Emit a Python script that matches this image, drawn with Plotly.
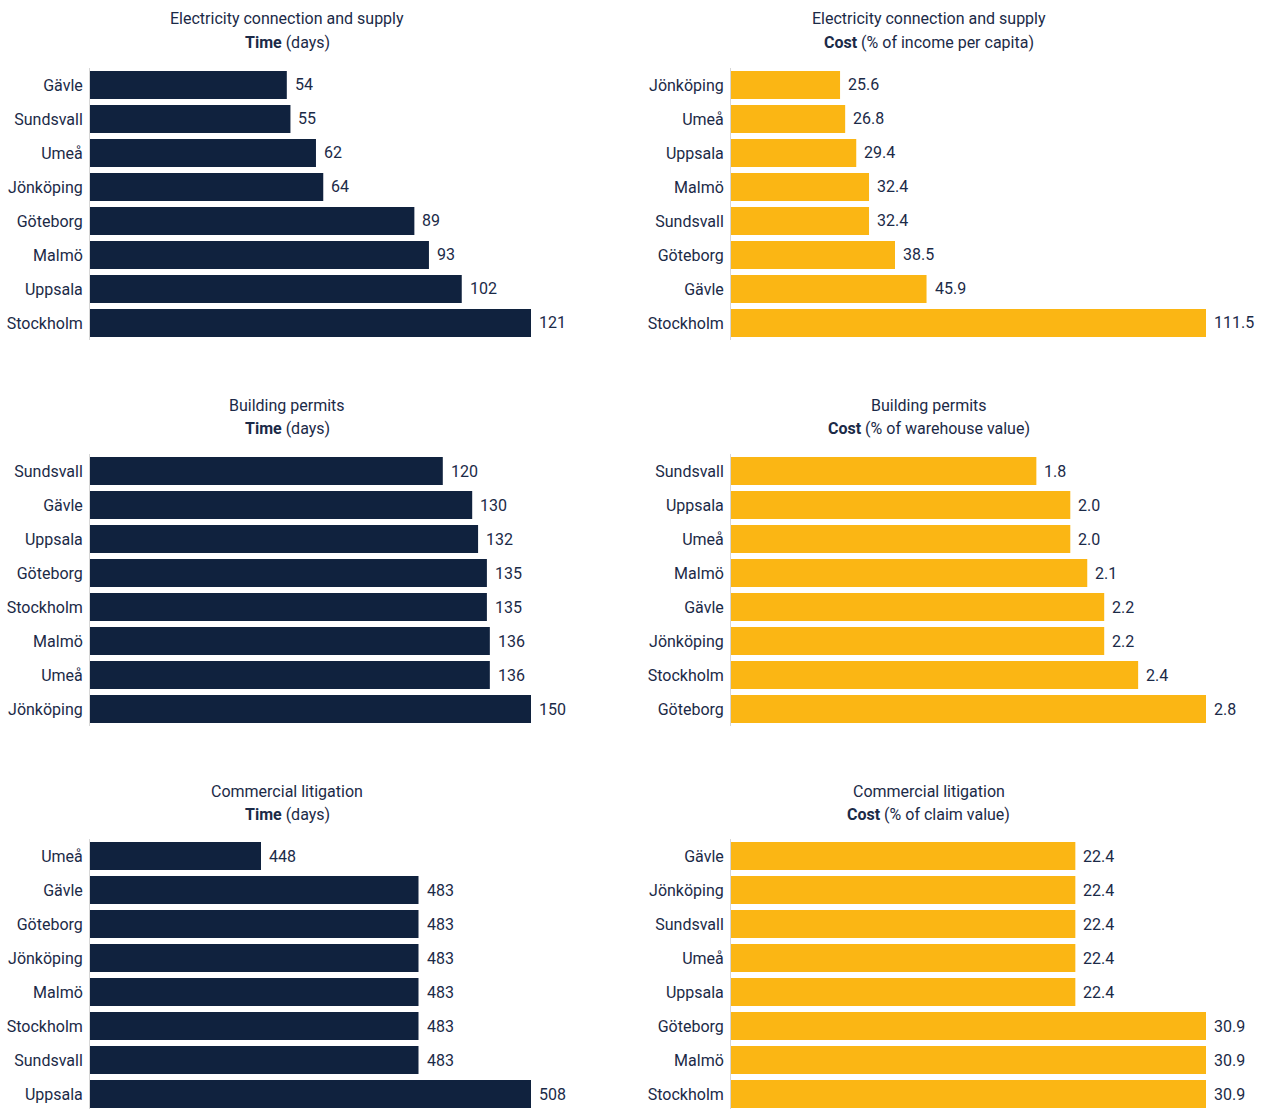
import plotly.graph_objects as go

# Doing Business in Sweden: city comparison across three indicators
elec_time_cities = ["Gävle", "Sundsvall", "Umeå", "Jönköping", "Göteborg", "Malmö", "Uppsala", "Stockholm"]
elec_time_days = [54, 55, 62, 64, 89, 93, 102, 121]

elec_cost_cities = ["Jönköping", "Umeå", "Uppsala", "Malmö", "Sundsvall", "Göteborg", "Gävle", "Stockholm"]
elec_cost_pct = [25.6, 26.8, 29.4, 32.4, 32.4, 38.5, 45.9, 111.5]

permit_time_cities = ["Sundsvall", "Gävle", "Uppsala", "Göteborg", "Stockholm", "Malmö", "Umeå", "Jönköping"]
permit_time_days = [120, 130, 132, 135, 135, 136, 136, 150]

permit_cost_cities = ["Sundsvall", "Uppsala", "Umeå", "Malmö", "Gävle", "Jönköping", "Stockholm", "Göteborg"]
permit_cost_pct = [1.8, 2.0, 2.0, 2.1, 2.2, 2.2, 2.4, 2.8]

litig_time_cities = ["Umeå", "Gävle", "Göteborg", "Jönköping", "Malmö", "Stockholm", "Sundsvall", "Uppsala"]
litig_time_days = [448, 483, 483, 483, 483, 483, 483, 508]

litig_cost_cities = ["Gävle", "Jönköping", "Sundsvall", "Umeå", "Uppsala", "Göteborg", "Malmö", "Stockholm"]
litig_cost_pct = [22.4, 22.4, 22.4, 22.4, 22.4, 30.9, 30.9, 30.9]

titles = [
    ("Electricity connection and supply", "Time", "(days)"),
    ("Electricity connection and supply", "Cost", "(% of income per capita)"),
    ("Building permits", "Time", "(days)"),
    ("Building permits", "Cost", "(% of warehouse value)"),
    ("Commercial litigation", "Time", "(days)"),
    ("Commercial litigation", "Cost", "(% of claim value)"),
]

NAVY = "#10223e"
GOLD = "#fbb614"
TEXT = "#1b2a47"
FONT = "Roboto"
FS = 16

W, H = 1267, 1109

panels = [
    (elec_time_cities, elec_time_days, NAVY, 0, 0, "{:.0f}", 0),
    (elec_cost_cities, elec_cost_pct, GOLD, 0, 1, "{:.1f}", 0),
    (permit_time_cities, permit_time_days, NAVY, 1, 0, "{:.0f}", 0),
    (permit_cost_cities, permit_cost_pct, GOLD, 1, 1, "{:.1f}", 0),
    (litig_time_cities, litig_time_days, NAVY, 2, 0, "{:.0f}", 410),
    (litig_cost_cities, litig_cost_pct, GOLD, 2, 1, "{:.1f}", 0),
]

# plot-area pixel extents
col_x = [(90, 531), (731, 1206)]
row_y = [(68, 340), (454, 726), (839, 1109)]
row_range = [[7.5, -0.5], [7.5, -0.5], [7.44, -0.5]]
title_cx = [287, 929]
title_y = [(19, 42), (405, 428), (791, 814)]

fig = go.Figure()
annotations = []

for i, (cities, vals, color, r, c, fmt, xmin) in enumerate(panels):
    n = i + 1
    xa = "x" if n == 1 else f"x{n}"
    ya = "y" if n == 1 else f"y{n}"
    fig.add_trace(go.Bar(
        x=vals, y=cities, orientation="h",
        marker=dict(color=color, line=dict(width=0)),
        xaxis=xa, yaxis=ya, showlegend=False, hoverinfo="x+y",
    ))
    x0, x1 = col_x[c]
    y0, y1 = row_y[r]
    fig.layout[f"xaxis{'' if n == 1 else n}"] = dict(
        domain=[x0 / W, x1 / W], range=[xmin, max(vals)], anchor=ya,
        visible=False, fixedrange=True, automargin=False,
    )
    fig.layout[f"yaxis{'' if n == 1 else n}"] = dict(
        domain=[1 - y1 / H, 1 - y0 / H], range=row_range[r], anchor=xa,
        type="category", categoryorder="array", categoryarray=cities,
        showgrid=False, zeroline=False, showline=True, linecolor="#d6d6d6", linewidth=1,
        ticks="", ticklabelstandoff=3, automargin=False,
        tickfont=dict(family=FONT, size=FS, color=TEXT), fixedrange=True,
    )
    for city, v in zip(cities, vals):
        annotations.append(dict(
            x=v, y=city, xref=xa, yref=ya, text=fmt.format(v),
            showarrow=False, xanchor="left", yanchor="middle", xshift=6,
            font=dict(family=FONT, size=FS, color=TEXT),
        ))
    line1, bold, rest = titles[i]
    ty1, ty2 = title_y[r]
    annotations.append(dict(
        x=title_cx[c] / W, y=1 - ty1 / H, xref="paper", yref="paper",
        text=line1, showarrow=False, xanchor="center", yanchor="middle",
        font=dict(family=FONT, size=FS, color=TEXT),
    ))
    annotations.append(dict(
        x=title_cx[c] / W, y=1 - ty2 / H, xref="paper", yref="paper",
        text=f"<b>{bold}</b> {rest}", showarrow=False, xanchor="center", yanchor="middle",
        font=dict(family=FONT, size=FS, color=TEXT),
    ))

fig.update_layout(
    width=W, height=H,
    margin=dict(l=0, r=0, t=0, b=0),
    paper_bgcolor="white", plot_bgcolor="white",
    bargap=0.176,
    annotations=annotations,
)

fig.write_html("out.html")
